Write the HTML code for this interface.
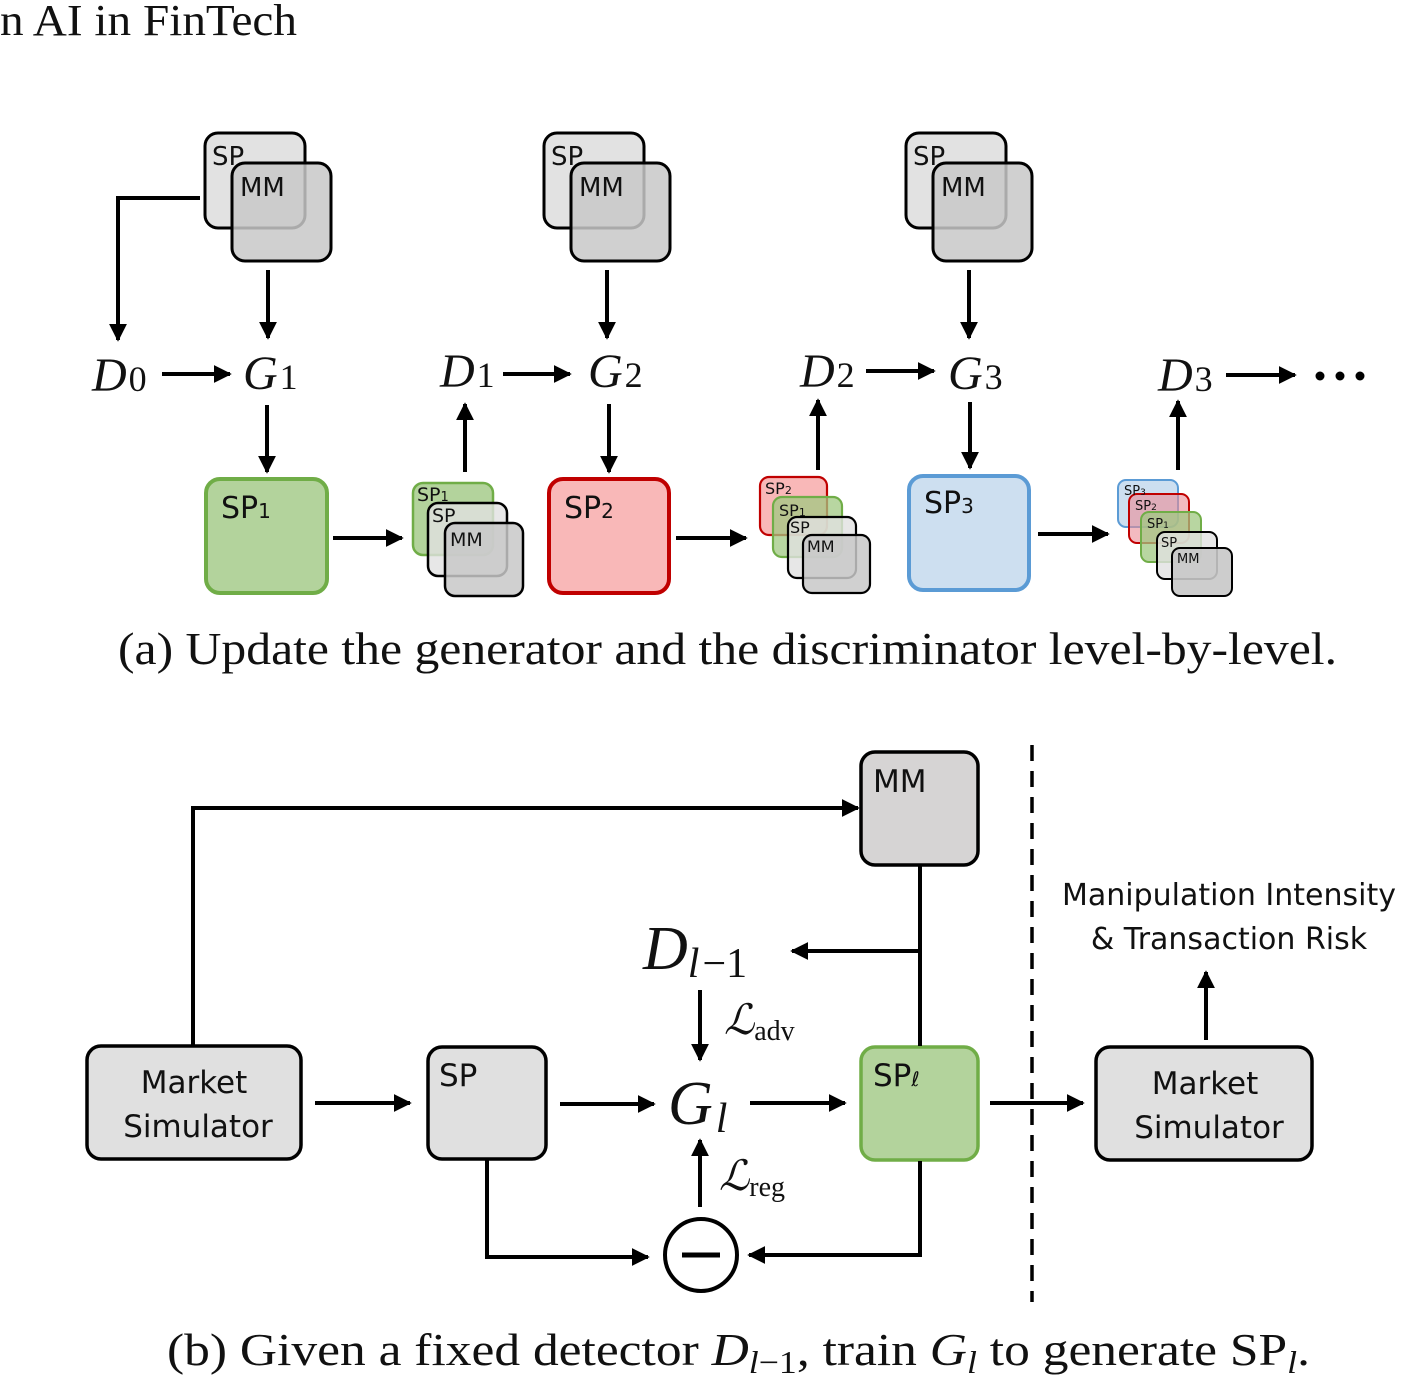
<!DOCTYPE html>
<html><head><meta charset="utf-8"><style>
html,body{margin:0;padding:0;background:#fff;}
svg{display:block;}
.s{font-family:"DejaVu Sans","Liberation Sans",sans-serif;fill:#111;}
.m{font-family:"Liberation Serif",serif;font-style:italic;fill:#111;}
.r{font-family:"Liberation Serif",serif;fill:#111;}
</style></head><body>
<svg width="1408" height="1384" viewBox="0 0 1408 1384" xmlns="http://www.w3.org/2000/svg">
<defs>
<marker id="a" viewBox="0 0 10 10" refX="9" refY="5" markerWidth="4.5" markerHeight="4.5" orient="auto"><path d="M0,0L10,5L0,10z" fill="#000"/></marker>
</defs>
<text x="0" y="35" class="r" font-size="44" textLength="297" lengthAdjust="spacingAndGlyphs">n AI in FinTech</text>

<g stroke="#000" stroke-width="3" fill="none">
<rect x="205" y="133" width="100" height="95" rx="13" fill="#e2e2e2"/>
<rect x="232" y="163" width="99" height="98" rx="13" fill="rgba(200,200,200,0.85)"/>
<rect x="544" y="133" width="100" height="95" rx="13" fill="#e2e2e2"/>
<rect x="571" y="163" width="99" height="98" rx="13" fill="rgba(200,200,200,0.85)"/>
<rect x="906" y="133" width="100" height="95" rx="13" fill="#e2e2e2"/>
<rect x="933" y="163" width="99" height="98" rx="13" fill="rgba(200,200,200,0.85)"/>
</g>
<g class="s" font-size="26">
<text x="212" y="165">SP</text><text x="240" y="196">MM</text>
<text x="551" y="165">SP</text><text x="579" y="196">MM</text>
<text x="913" y="165">SP</text><text x="941" y="196">MM</text>
</g>

<rect x="206" y="479" width="121" height="114" rx="14" fill="#b3d39c" stroke="#70ad47" stroke-width="4"/>
<rect x="549" y="479" width="120" height="114" rx="14" fill="#f9b8b8" stroke="#c00000" stroke-width="4"/>
<rect x="909" y="476" width="120" height="114" rx="14" fill="#cddff0" stroke="#5b9bd5" stroke-width="4"/>
<g class="s" font-size="30">
<text x="221" y="518">SP<tspan font-size="20">1</tspan></text>
<text x="564" y="518">SP<tspan font-size="20">2</tspan></text>
<text x="924" y="513">SP<tspan font-size="20">3</tspan></text>
</g>

<g stroke-width="2.5">
<rect x="413" y="483" width="80" height="72" rx="10" fill="#b3d39c" stroke="#70ad47"/>
<rect x="428" y="503" width="79" height="73" rx="10" fill="rgba(225,225,225,0.8)" stroke="#000"/>
<rect x="445" y="523" width="78" height="73" rx="10" fill="rgba(200,200,200,0.85)" stroke="#000"/>
</g>
<g class="s" font-size="19">
<text x="417" y="501">SP<tspan font-size="13">1</tspan></text>
<text x="432" y="522">SP</text><text x="450" y="546">MM</text>
</g>
<g stroke-width="2.2">
<rect x="760" y="477" width="67" height="58" rx="9" fill="#f9b8b8" stroke="#c00000"/>
<rect x="773" y="497" width="69" height="60" rx="9" fill="rgba(160,200,130,0.75)" stroke="#70ad47"/>
<rect x="788" y="517" width="68" height="61" rx="9" fill="rgba(225,225,225,0.8)" stroke="#000"/>
<rect x="803" y="535" width="67" height="58" rx="9" fill="rgba(200,200,200,0.85)" stroke="#000"/>
</g>
<g class="s" font-size="16">
<text x="765" y="494">SP<tspan font-size="11">2</tspan></text>
<text x="779" y="516">SP<tspan font-size="11">1</tspan></text>
<text x="790" y="533">SP</text><text x="807" y="552">MM</text>
</g>
<g stroke-width="2">
<rect x="1118" y="480" width="60" height="47" rx="8" fill="#cddff0" stroke="#5b9bd5"/>
<rect x="1129" y="494" width="60" height="49" rx="8" fill="rgba(235,140,150,0.6)" stroke="#c00000"/>
<rect x="1141" y="512" width="60" height="50" rx="8" fill="rgba(160,200,130,0.75)" stroke="#70ad47"/>
<rect x="1157" y="532" width="60" height="47" rx="8" fill="rgba(225,225,225,0.8)" stroke="#000"/>
<rect x="1172" y="548" width="60" height="48" rx="8" fill="rgba(200,200,200,0.9)" stroke="#000"/>
</g>
<g class="s" font-size="13">
<text x="1124" y="495">SP<tspan font-size="9">3</tspan></text>
<text x="1135" y="510">SP<tspan font-size="9">2</tspan></text>
<text x="1147" y="528">SP<tspan font-size="9">1</tspan></text>
<text x="1161" y="547">SP</text><text x="1177" y="563">MM</text>
</g>

<g class="m" font-size="48">
<text x="92" y="391">D<tspan font-style="normal" font-size="36" dx="2">0</tspan></text>
<text x="243" y="389">G<tspan font-style="normal" font-size="36" dx="2">1</tspan></text>
<text x="440" y="387">D<tspan font-style="normal" font-size="36" dx="2">1</tspan></text>
<text x="588" y="387">G<tspan font-style="normal" font-size="36" dx="2">2</tspan></text>
<text x="800" y="387">D<tspan font-style="normal" font-size="36" dx="2">2</tspan></text>
<text x="948" y="389">G<tspan font-style="normal" font-size="36" dx="2">3</tspan></text>
<text x="1158" y="391">D<tspan font-style="normal" font-size="36" dx="2">3</tspan></text>
</g>
<g fill="#000"><circle cx="1320" cy="376" r="4.5"/><circle cx="1340" cy="376" r="4.5"/><circle cx="1360" cy="376" r="4.5"/></g>

<g stroke="#000" stroke-width="4" fill="none" marker-end="url(#a)">
<path d="M200,198H118V340"/>
<path d="M268,270V338"/><path d="M607,270V338"/><path d="M969,270V338"/>
<path d="M162,374H230"/><path d="M503,374H570"/><path d="M866,371H934"/><path d="M1226,375H1295"/>
<path d="M267,405V472"/><path d="M609,404V472"/><path d="M970,402V468"/>
<path d="M465,472V404"/><path d="M818,470V400"/><path d="M1178,470V401"/>
<path d="M333,538H402"/><path d="M676,538H746"/><path d="M1038,534H1108"/>
</g>

<text x="118" y="664" class="r" font-size="46" textLength="1219" lengthAdjust="spacingAndGlyphs">(a) Update the generator and the discriminator level-by-level.</text>

<g stroke="#000" stroke-width="3.5">
<rect x="861" y="752" width="117" height="113" rx="14" fill="#d6d4d4"/>
<rect x="87" y="1046" width="214" height="113" rx="14" fill="#e0e0e0"/>
<rect x="428" y="1047" width="118" height="112" rx="14" fill="#e0e0e0"/>
<rect x="1096" y="1047" width="216" height="113" rx="14" fill="#e0e0e0"/>
</g>
<rect x="861" y="1047" width="117" height="113" rx="14" fill="#b3d39c" stroke="#70ad47" stroke-width="3.5"/>
<circle cx="701" cy="1255" r="36" fill="#fff" stroke="#000" stroke-width="4"/>
<line x1="682" y1="1255" x2="720" y2="1255" stroke="#000" stroke-width="5"/>
<line x1="1032" y1="745" x2="1032" y2="1302" stroke="#000" stroke-width="3.5" stroke-dasharray="16,10"/>

<g class="s" font-size="31">
<text x="873" y="792">MM</text>
<text x="194" y="1093" text-anchor="middle">Market</text>
<text x="198" y="1137" text-anchor="middle">Simulator</text>
<text x="439" y="1086">SP</text>
<text x="873" y="1086">SP<tspan font-size="20" font-style="italic">ℓ</tspan></text>
<text x="1205" y="1094" text-anchor="middle">Market</text>
<text x="1209" y="1138" text-anchor="middle">Simulator</text>
<text x="1229" y="905" text-anchor="middle" font-size="30">Manipulation Intensity</text>
<text x="1229" y="949" text-anchor="middle" font-size="30">&amp; Transaction Risk</text>
</g>

<g stroke="#000" stroke-width="4" fill="none">
<path d="M193,1045V808H858" marker-end="url(#a)"/>
<path d="M920,866V1046"/>
<path d="M920,951H792" marker-end="url(#a)"/>
<path d="M700,990V1060" marker-end="url(#a)"/>
<path d="M315,1103H410" marker-end="url(#a)"/>
<path d="M560,1104H654" marker-end="url(#a)"/>
<path d="M750,1103H845" marker-end="url(#a)"/>
<path d="M990,1103H1083" marker-end="url(#a)"/>
<path d="M1206,1040V972" marker-end="url(#a)"/>
<path d="M700,1207V1140" marker-end="url(#a)"/>
<path d="M487,1160V1257H648" marker-end="url(#a)"/>
<path d="M920,1161V1255H749" marker-end="url(#a)"/>
</g>

<g class="m" font-size="62">
<text x="643" y="969">D<tspan font-size="42" dy="8">l</tspan><tspan font-style="normal" font-size="42" dx="3">−1</tspan></text>
<text x="668" y="1124">G<tspan font-size="42" dy="8" dx="3">l</tspan></text>
</g>
<g class="m" font-size="42">
<text x="724" y="1034">ℒ<tspan font-style="normal" font-size="28" dy="6">adv</tspan></text>
<text x="719" y="1190">ℒ<tspan font-style="normal" font-size="28" dy="6">reg</tspan></text>
</g>

<text x="167" y="1365" class="r" font-size="46" textLength="1143" lengthAdjust="spacingAndGlyphs">(b) Given a fixed detector <tspan font-style="italic">D</tspan><tspan font-style="italic" font-size="32" dy="8">l</tspan><tspan font-size="32">−1</tspan><tspan dy="-8">, train </tspan><tspan font-style="italic">G</tspan><tspan font-style="italic" font-size="32" dy="8">l</tspan><tspan dy="-8"> to generate SP</tspan><tspan font-style="italic" font-size="32" dy="8">l</tspan><tspan dy="-8">.</tspan></text>
</svg>
</body></html>
